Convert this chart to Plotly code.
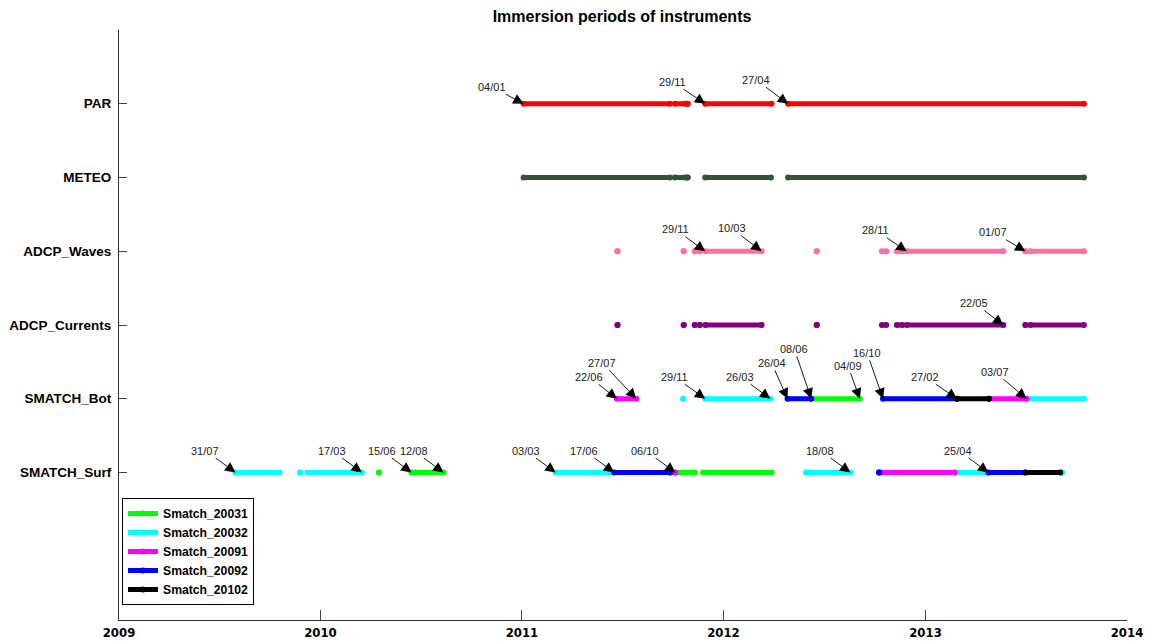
import pandas as pd
import plotly.graph_objects as go

# Instrument rows, bottom to top
rows = ["SMATCH_Surf", "SMATCH_Bot", "ADCP_Currents", "ADCP_Waves", "METEO", "PAR"]

# Immersion periods (start, end); a single date gives an isolated point
par_periods = [
    ("2011-01-04", "2011-09-26"), ("2011-10-05", "2011-10-23"), ("2011-10-28", "2011-10-28"),
    ("2011-11-29", "2012-03-28"), ("2012-04-27", "2013-10-15"),
]
meteo_periods = [
    ("2011-01-04", "2011-09-26"), ("2011-10-05", "2011-10-23"), ("2011-10-28", "2011-10-28"),
    ("2011-11-29", "2012-03-27"), ("2012-04-27", "2013-10-15"),
]
waves_periods = [
    ("2011-06-23", "2011-06-23"), ("2011-10-21", "2011-10-21"), ("2011-11-10", "2011-11-10"),
    ("2011-11-19", "2011-11-19"), ("2011-11-29", "2012-03-10"), ("2012-06-18", "2012-06-18"),
    ("2012-10-14", "2012-10-22"), ("2012-11-10", "2012-11-20"), ("2012-11-28", "2013-05-22"),
    ("2013-07-01", "2013-07-01"), ("2013-07-10", "2013-10-15"),
]
currents_periods = [
    ("2011-06-23", "2011-06-23"), ("2011-10-21", "2011-10-21"), ("2011-11-10", "2011-11-10"),
    ("2011-11-19", "2011-11-19"), ("2011-11-29", "2012-03-10"), ("2012-06-18", "2012-06-18"),
    ("2012-10-14", "2012-10-22"), ("2012-11-10", "2012-11-20"), ("2012-11-28", "2013-05-22"),
    ("2013-07-01", "2013-07-01"), ("2013-07-10", "2013-10-15"),
]
bot_periods = [
    ("Smatch_20091", "2011-06-22", "2011-07-27"),
    ("Smatch_20032", "2011-10-20", "2011-10-20"),
    ("Smatch_20032", "2011-11-29", "2012-03-26"),
    ("Smatch_20092", "2012-04-26", "2012-06-08"),
    ("Smatch_20031", "2012-06-08", "2012-09-04"),
    ("Smatch_20092", "2012-10-16", "2013-02-27"),
    ("Smatch_20102", "2013-02-27", "2013-04-26"),
    ("Smatch_20091", "2013-04-26", "2013-07-03"),
    ("Smatch_20032", "2013-07-03", "2013-10-15"),
]
surf_periods = [
    ("Smatch_20032", "2009-07-31", "2009-10-19"),
    ("Smatch_20032", "2009-11-25", "2009-11-25"),
    ("Smatch_20032", "2009-12-08", "2010-03-17"),
    ("Smatch_20031", "2010-04-17", "2010-04-17"),
    ("Smatch_20031", "2010-06-15", "2010-06-15"),
    ("Smatch_20031", "2010-06-22", "2010-08-12"),
    ("Smatch_20032", "2011-03-03", "2011-06-17"),
    ("Smatch_20092", "2011-06-17", "2011-09-26"),
    ("Smatch_20091", "2011-09-26", "2011-10-06"),
    ("Smatch_20031", "2011-10-06", "2011-11-10"),
    ("Smatch_20031", "2011-11-25", "2012-03-28"),
    ("Smatch_20032", "2012-05-30", "2012-05-30"),
    ("Smatch_20032", "2012-06-05", "2012-08-18"),
    ("Smatch_20092", "2012-10-09", "2012-10-09"),
    ("Smatch_20091", "2012-10-12", "2013-02-23"),
    ("Smatch_20032", "2013-02-23", "2013-04-25"),
    ("Smatch_20092", "2013-04-25", "2013-07-01"),
    ("Smatch_20102", "2013-07-01", "2013-09-02"),
    ("Smatch_20032", "2013-09-05", "2013-09-05"),
]

# Dated markers on each row
par_marks = ["2011-01-04", "2011-11-29", "2012-04-27"]
waves_marks = ["2011-11-29", "2012-03-10", "2012-11-28", "2013-07-01"]
currents_marks = ["2013-05-22"]
bot_marks = ["2011-06-22", "2011-07-27", "2011-11-29", "2012-03-26", "2012-04-26",
             "2012-06-08", "2012-09-04", "2012-10-16", "2013-02-27", "2013-07-03"]
surf_marks = ["2009-07-31", "2010-03-17", "2010-06-15", "2010-08-12", "2011-03-03",
              "2011-06-17", "2011-10-06", "2012-08-18", "2013-04-25"]

years = [2009, 2010, 2011, 2012, 2013, 2014]
instruments = ["Smatch_20031", "Smatch_20032", "Smatch_20091", "Smatch_20092", "Smatch_20102"]

# Styling
inst_colors = {
    "Smatch_20031": "#00ff00",
    "Smatch_20032": "#00ffff",
    "Smatch_20091": "#ff00ff",
    "Smatch_20092": "#0000ff",
    "Smatch_20102": "#000000",
}
row_colors = {"PAR": "#ff0000", "METEO": "#345234", "ADCP_Waves": "#ff6fa0",
              "ADCP_Currents": "#800080"}

# Label offsets (pixels from arrow tip to text centre), per row in date order
par_offsets = [(-32, -17), (-33, -22), (-32, -24)]
waves_offsets = [(-30, -22), (-30, -23), (-31, -21), (-32, -19)]
currents_offsets = [(-29, -22)]
bot_offsets = [(-28, -22), (-34, -36), (-31, -22), (-30, -22), (-16, -36),
               (-17, -50), (-12, -33), (-16, -46), (-32, -22), (-32, -27)]
surf_offsets = [(-30, -22)] * 9

LINE_W = 5
MARK_S = 6


def segments_xy(periods, row):
    xs, ys = [], []
    for start, end in periods:
        xs += [start, end, None]
        ys += [row, row, None]
    return xs, ys


fig = go.Figure()

for row, periods in [("PAR", par_periods), ("METEO", meteo_periods),
                     ("ADCP_Waves", waves_periods), ("ADCP_Currents", currents_periods)]:
    xs, ys = segments_xy(periods, row)
    fig.add_trace(go.Scatter(
        x=xs, y=ys, mode="lines+markers", showlegend=False, hoverinfo="skip",
        line=dict(color=row_colors[row], width=LINE_W),
        marker=dict(color=row_colors[row], size=MARK_S),
    ))

shown = set()
for row, periods in [("SMATCH_Bot", bot_periods), ("SMATCH_Surf", surf_periods)]:
    for inst in instruments:
        sel = [(s, e) for name, s, e in periods if name == inst]
        if not sel:
            continue
        xs, ys = segments_xy(sel, row)
        fig.add_trace(go.Scatter(
            x=xs, y=ys, mode="lines+markers", name=inst, legendgroup=inst,
            legendrank=instruments.index(inst) + 1,
            showlegend=inst not in shown, hoverinfo="skip",
            line=dict(color=inst_colors[inst], width=LINE_W),
            marker=dict(color=inst_colors[inst], size=MARK_S),
        ))
        shown.add(inst)

label_font = dict(family="Liberation Sans Narrow, Liberation Sans, Arial", size=11, color="#222222")
for row, marks, offsets in [("PAR", par_marks, par_offsets),
                            ("ADCP_Waves", waves_marks, waves_offsets),
                            ("ADCP_Currents", currents_marks, currents_offsets),
                            ("SMATCH_Bot", bot_marks, bot_offsets),
                            ("SMATCH_Surf", surf_marks, surf_offsets)]:
    for d, (ox, oy) in zip(marks, offsets):
        fig.add_annotation(
            x=d, y=row, xref="x", yref="y", text=pd.Timestamp(d).strftime("%d/%m"),
            showarrow=True, ax=ox, ay=oy, axref="pixel", ayref="pixel",
            arrowhead=2, arrowsize=2.3, arrowwidth=0.9, arrowcolor="#000000",
            standoff=0, startstandoff=0, font=label_font,
        )

fig.update_layout(
    width=1160, height=641,
    margin=dict(l=119, r=33, t=30, b=21),
    plot_bgcolor="white", paper_bgcolor="white",
    title=dict(text="Immersion periods of instruments", x=622 / 1160, xref="container",
               xanchor="center", y=1 - 16 / 641, yref="container", yanchor="middle",
               font=dict(family="Liberation Sans, Arial", size=16, color="#000000", weight="bold")),
    legend=dict(x=0.003, y=(620 - 498) / 590, xanchor="left", yanchor="top",
                bgcolor="white", bordercolor="#000000", borderwidth=1,
                font=dict(family="Liberation Sans, Arial", size=12.2, color="#000000", weight="bold"),
                itemwidth=30, tracegroupgap=0),
    xaxis=dict(
        type="date", range=[f"{years[0]}-01-01", f"{years[-1]}-01-01"],
        tickvals=[f"{y}-01-01" for y in years], ticktext=[str(y) for y in years],
        ticks="inside", ticklen=10, tickcolor="#444444", automargin=False,
        showline=True, linecolor="#333333", linewidth=1, mirror=False,
        showgrid=False, zeroline=False,
        tickfont=dict(family="Liberation Sans Narrow, DejaVu Sans Condensed, Arial", size=13,
                      color="#000000", weight="bold"),
    ),
    yaxis=dict(
        type="category", categoryorder="array", categoryarray=rows, range=[-2, 6],
        ticks="inside", ticklen=8, tickcolor="#444444", automargin=False,
        showline=True, linecolor="#333333", linewidth=1, mirror=False,
        showgrid=False, zeroline=False, ticklabelstandoff=4,
        tickfont=dict(family="Liberation Sans, Arial", size=13.5, color="#000000", weight="bold"),
    ),
)

fig.write_html("out.html")
